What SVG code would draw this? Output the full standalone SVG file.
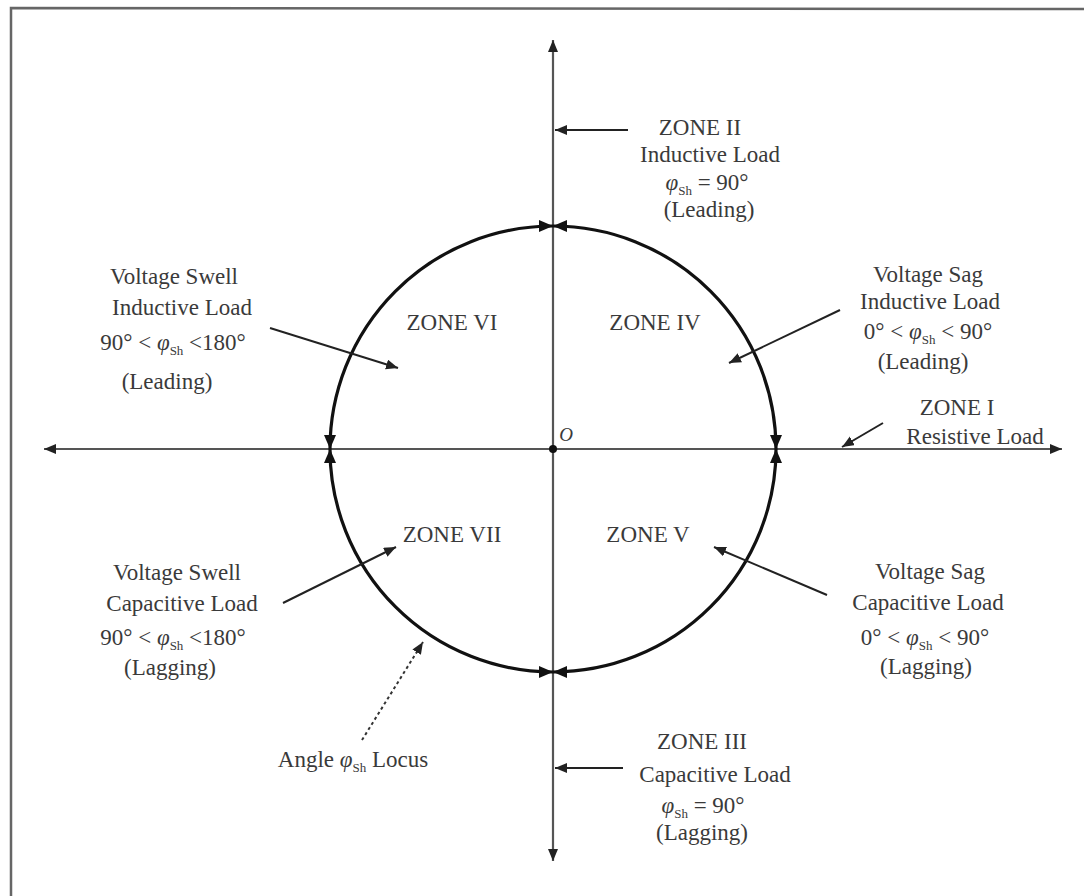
<svg xmlns="http://www.w3.org/2000/svg" width="1084" height="896" viewBox="0 0 1084 896">
<style>
text{font-family:"Liberation Serif","Times New Roman",serif;font-size:23px;fill:#3a3a3a;text-anchor:middle}
.sub{font-size:13px}
.phi{font-style:italic}
.axis{stroke:#555;stroke-width:2.2;fill:none}
.circ{stroke:#111;stroke-width:3.2;fill:none}
.ptr{stroke:#222;stroke-width:2;fill:none}
.dot{stroke:#333;stroke-width:2;fill:none;stroke-dasharray:3 3}
</style>
<defs>
<marker id="ah" markerUnits="userSpaceOnUse" markerWidth="14" markerHeight="12" refX="12" refY="5" orient="auto-start-reverse">
<path d="M0,0 L12,5 L0,10 Z" fill="#222"/>
</marker>
<marker id="ca" markerUnits="userSpaceOnUse" markerWidth="16" markerHeight="14" refX="14" refY="6" orient="auto-start-reverse">
<path d="M0,0 L14,6 L0,12 Z" fill="#111"/>
</marker>
</defs>
<rect width="1084" height="896" fill="#fff"/>
<path d="M11,896 L11,8 L1084,9" fill="none" stroke="#666" stroke-width="2.5"/>

<g id="connectors">
<line class="axis" x1="553" y1="861" x2="553" y2="40" marker-start="url(#ah)" marker-end="url(#ah)"/>
<line class="axis" x1="44" y1="449" x2="1062" y2="449" marker-start="url(#ah)" marker-end="url(#ah)"/>
<circle cx="553" cy="449" r="4" fill="#111"/>
<path class="circ" d="M553,226 A223,223 0 0 0 330,449" marker-start="url(#ca)" marker-end="url(#ca)"/>
<path class="circ" d="M330,449 A223,223 0 0 0 553,672" marker-start="url(#ca)" marker-end="url(#ca)"/>
<path class="circ" d="M553,672 A223,223 0 0 0 776,449" marker-start="url(#ca)" marker-end="url(#ca)"/>
<path class="circ" d="M776,449 A223,223 0 0 0 553,226" marker-start="url(#ca)" marker-end="url(#ca)"/>
<line class="ptr" x1="628" y1="130" x2="555" y2="130" marker-end="url(#ah)"/>
<line class="ptr" x1="623" y1="768" x2="555" y2="768" marker-end="url(#ah)"/>
<line class="ptr" x1="270" y1="328" x2="398" y2="368" marker-end="url(#ah)"/>
<line class="ptr" x1="840" y1="310" x2="729" y2="363" marker-end="url(#ah)"/>
<line class="ptr" x1="883" y1="423" x2="842" y2="447" marker-end="url(#ah)"/>
<line class="ptr" x1="283" y1="603" x2="396" y2="547" marker-end="url(#ah)"/>
<line class="ptr" x1="827" y1="595" x2="714" y2="547" marker-end="url(#ah)"/>
<line class="dot" x1="362" y1="740" x2="423" y2="642" marker-end="url(#ah)"/>
</g>

<g id="origin"><text x="566" y="441" class="phi" style="font-size:19px">O</text></g>

<g id="zone2">
<text x="700" y="135">ZONE II</text>
<text x="710" y="162">Inductive Load</text>
<text x="707" y="190"><tspan class="phi">φ</tspan><tspan class="sub" dy="5">Sh</tspan><tspan dy="-5"> = 90°</tspan></text>
<text x="709" y="217">(Leading)</text>
</g>

<g id="zone1">
<text x="957" y="415">ZONE I</text>
<text x="975" y="444">Resistive Load</text>
</g>

<g id="zone3">
<text x="702" y="749">ZONE III</text>
<text x="715" y="782">Capacitive Load</text>
<text x="703" y="813"><tspan class="phi">φ</tspan><tspan class="sub" dy="5">Sh</tspan><tspan dy="-5"> = 90°</tspan></text>
<text x="702" y="840">(Lagging)</text>
</g>

<g id="zone6-label">
<text x="174" y="284">Voltage Swell</text>
<text x="182" y="315">Inductive Load</text>
<text x="173" y="350">90° &lt; <tspan class="phi">φ</tspan><tspan class="sub" dy="5">Sh</tspan><tspan dy="-5"> &lt;180°</tspan></text>
<text x="167" y="389">(Leading)</text>
</g>

<g id="zone4-label">
<text x="928" y="282">Voltage Sag</text>
<text x="930" y="309">Inductive Load</text>
<text x="928" y="339">0° &lt; <tspan class="phi">φ</tspan><tspan class="sub" dy="5">Sh</tspan><tspan dy="-5"> &lt; 90°</tspan></text>
<text x="923" y="369">(Leading)</text>
</g>

<g id="zone7-label">
<text x="177" y="580">Voltage Swell</text>
<text x="182" y="611">Capacitive Load</text>
<text x="173" y="645">90° &lt; <tspan class="phi">φ</tspan><tspan class="sub" dy="5">Sh</tspan><tspan dy="-5"> &lt;180°</tspan></text>
<text x="170" y="675">(Lagging)</text>
</g>

<g id="zone5-label">
<text x="930" y="579">Voltage Sag</text>
<text x="928" y="610">Capacitive Load</text>
<text x="925" y="645">0° &lt; <tspan class="phi">φ</tspan><tspan class="sub" dy="5">Sh</tspan><tspan dy="-5"> &lt; 90°</tspan></text>
<text x="926" y="674">(Lagging)</text>
</g>

<g id="zones">
<text x="452" y="330">ZONE VI</text>
<text x="655" y="330">ZONE IV</text>
<text x="452" y="542">ZONE VII</text>
<text x="648" y="542">ZONE V</text>
</g>

<g id="locus">
<text x="353" y="767">Angle <tspan class="phi">φ</tspan><tspan class="sub" dy="5">Sh</tspan><tspan dy="-5"> Locus</tspan></text>
</g>
</svg>
